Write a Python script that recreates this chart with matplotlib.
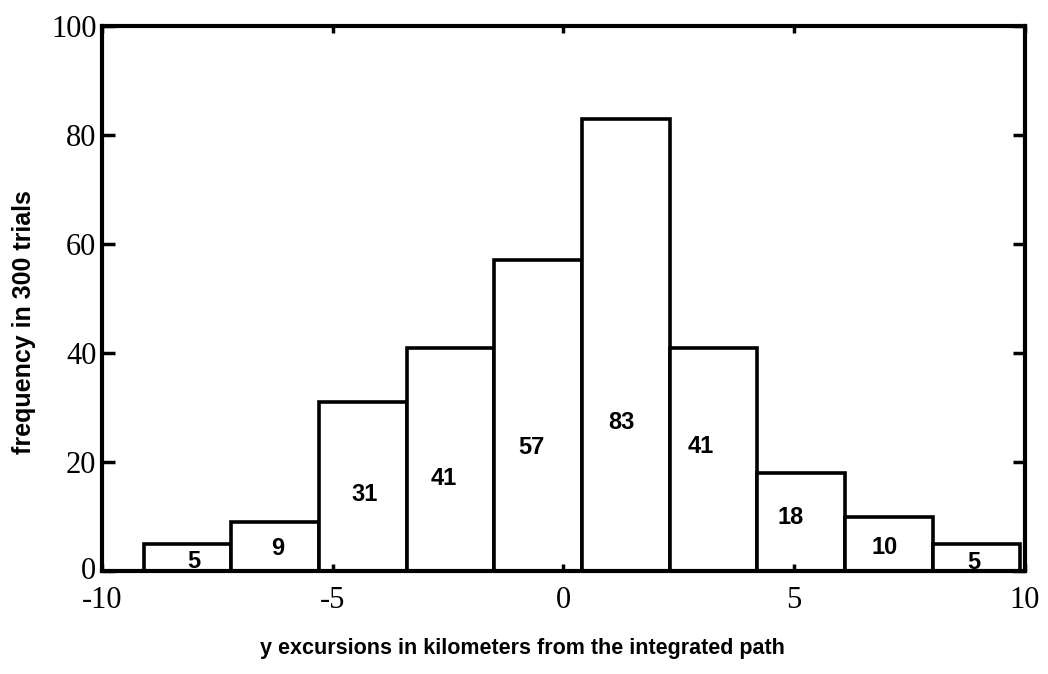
import numpy as np
import matplotlib.pyplot as plt

plt.rcParams['axes.unicode_minus'] = False

# histogram of y excursions, 300 trials, 10 bins
edges = [-9.1, -7.2, -5.3, -3.4, -1.5, 0.4, 2.3, 4.2, 6.1, 8.0, 9.9]
counts = [5, 9, 31, 41, 57, 83, 41, 18, 10, 5]

# where the count numbers sit inside each bar
label_x = [-8.0, -6.2, -4.3, -2.6, -0.7, 1.25, 2.98, 4.93, 6.95, 8.9]
label_y = [1.7, 4.2, 14.0, 17.0, 22.6, 27.3, 22.8, 9.9, 4.4, 1.5]

fig = plt.figure(figsize=(10.48, 6.74), dpi=100)
ax = fig.add_axes([0.0973, 0.1528, 0.8807, 0.8086])

left = np.array(edges[:-1])
width = np.diff(edges)
ax.bar(left, counts, width=width, align='edge', color='white',
       edgecolor='black', linewidth=2.6)

for xv, yv, c in zip(label_x, label_y, counts):
    ax.text(xv, yv, str(c), ha='center', va='center', fontsize=17,
            fontweight='bold', family='Liberation Sans')

ax.set_xlim(-10, 10)
ax.set_ylim(0, 100)
ax.set_xticks([-10, -5, 0, 5, 10])
ax.set_yticks([0, 20, 40, 60, 80, 100])
ax.tick_params(direction='in', top=True, right=True, width=2.5,
               labelsize=22, labelfontfamily='Liberation Serif')
ax.tick_params(axis='y', length=9, pad=4)
ax.tick_params(axis='x', length=5, pad=11)
for s in ax.spines.values():
    s.set_linewidth(3)

# lift the "0" on the y axis a little so it clears "-10"
ax.get_yticklabels()[0].set_verticalalignment('center')

ax.set_xlabel('y excursions in kilometers from the integrated path',
              fontsize=15.5, family='Liberation Sans', fontweight='bold')
ax.set_ylabel('frequency in 300 trials', fontsize=18,
              family='Liberation Sans', fontweight='bold')
ax.xaxis.set_label_coords(0.456, -0.123)
ax.yaxis.set_label_coords(-0.072, 0.457)

fig.savefig('out.png', dpi=100)
